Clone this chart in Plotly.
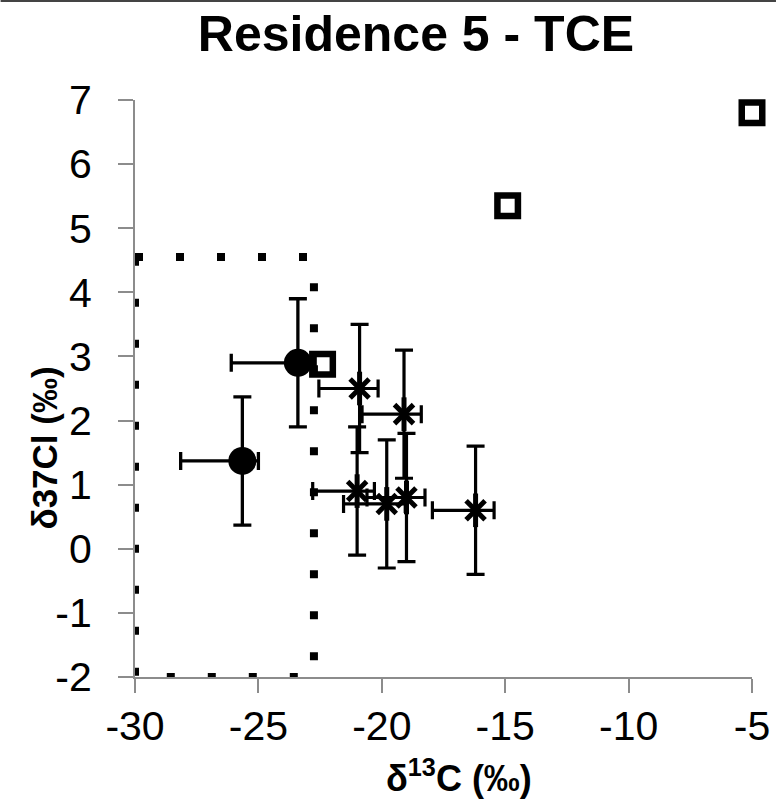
import plotly.graph_objects as go

# ---- data ----
circle_x = [-23.4, -25.65]
circle_y = [2.9, 1.37]
circle_xerr_minus = [2.7, 2.5]
circle_xerr_plus = [0.7, 0.65]
circle_yerr = [1.0, 1.0]

square_x = [-5.0, -14.9, -22.4]
square_y = [6.8, 5.35, 2.88]

star_x = [-20.9, -19.1, -21.0, -19.8, -19.0, -16.2]
star_y = [2.5, 2.1, 0.9, 0.7, 0.8, 0.6]
star_xerr_minus = [1.65, 1.7, 1.8, 1.75, 1.6, 1.75]
star_xerr_plus = [0.75, 0.7, 0.7, 0.75, 0.75, 0.75]
star_yerr = [1.0, 1.0, 1.0, 1.0, 1.0, 1.0]

box_x = [-30, -22.75, -22.75, -30, -30]
box_y = [4.55, 4.55, -2, -2, 4.55]

x_ticks = [-30, -25, -20, -15, -10, -5]
y_ticks = [-2, -1, 0, 1, 2, 3, 4, 5, 6, 7]

W, H = 776, 801
L, R, T, B = 134.5, 24, 100, 124

FONT = "Liberation Sans, Arial, sans-serif"

fig = go.Figure()

# dotted box
fig.add_trace(go.Scatter(
    x=box_x, y=box_y, mode="lines",
    line=dict(color="black", width=8, dash="8px,33px"),
    cliponaxis=False, hoverinfo="skip", showlegend=False))

# circles with error bars
fig.add_trace(go.Scatter(
    x=circle_x, y=circle_y, mode="markers",
    marker=dict(symbol="circle", size=28, color="black"),
    error_x=dict(type="data", symmetric=False, array=circle_xerr_plus,
                 arrayminus=circle_xerr_minus, color="black", thickness=3.3, width=9),
    error_y=dict(type="data", array=circle_yerr, color="black", thickness=3.3, width=9),
    cliponaxis=False, showlegend=False))

# stars with error bars
fig.add_trace(go.Scatter(
    x=star_x, y=star_y, mode="markers",
    marker=dict(symbol="x-thin-open", size=19, color="black",
                line=dict(color="black", width=5)),
    error_x=dict(type="data", symmetric=False, array=star_xerr_plus,
                 arrayminus=star_xerr_minus, color="black", thickness=3.2, width=9),
    error_y=dict(type="data", array=star_yerr, color="black", thickness=3.2, width=9),
    cliponaxis=False, showlegend=False))
fig.add_trace(go.Scatter(
    x=star_x, y=star_y, mode="markers",
    marker=dict(symbol="line-ns-open", size=24, color="black",
                line=dict(color="black", width=5)),
    cliponaxis=False, showlegend=False, hoverinfo="skip"))

# open squares
fig.add_trace(go.Scatter(
    x=square_x, y=square_y, mode="markers",
    marker=dict(symbol="square-open", size=20.5, color="black",
                line=dict(color="black", width=6.5)),
    cliponaxis=False, showlegend=False))

pw = W - L - R
ph = H - T - B

# top frame line
fig.add_shape(type="line", xref="paper", yref="paper",
              x0=-L / pw, x1=(W - L) / pw, y0=1 + (T - 1) / ph, y1=1 + (T - 1) / ph,
              line=dict(color="#444444", width=2))

fig.update_layout(
    width=W, height=H,
    margin=dict(l=L, r=R, t=T, b=B, pad=0, autoexpand=False),
    paper_bgcolor="white", plot_bgcolor="white",
    font=dict(family=FONT, color="black"),
    title=dict(text="<b>Residence 5 - TCE</b>", x=416 / W, xanchor="center",
               y=1 - 33 / H, yanchor="middle", font=dict(size=50, family=FONT)),
    xaxis=dict(range=[-30, -5], tickvals=x_ticks, ticktext=[str(v) for v in x_ticks],
               showgrid=False, zeroline=False, showline=True, linecolor="#8c8c8c",
               linewidth=2, ticks="outside", ticklen=14, tickcolor="#8c8c8c",
               tickwidth=1.5, tickfont=dict(size=41), ticklabelstandoff=-2,
               automargin=False),
    yaxis=dict(range=[-2, 7], tickvals=y_ticks, ticktext=[str(v) for v in y_ticks],
               showgrid=False, zeroline=False, showline=True, linecolor="#8c8c8c",
               linewidth=2, ticks="outside", ticklen=15, tickcolor="#8c8c8c",
               tickwidth=1.5, tickfont=dict(size=41), ticklabelstandoff=18,
               automargin=False),
    annotations=[
        dict(text="<b>δ<sup>13</sup>C (‰)</b>", xref="paper", yref="paper",
             x=(459 - L) / pw, y=-(776 - (H - B)) / ph, xanchor="center", yanchor="middle",
             showarrow=False, font=dict(size=36)),
        dict(text="<b>δ37Cl (‰)</b>", xref="paper", yref="paper",
             x=-(L - 43) / pw, y=1 - (448 - T) / ph, xanchor="center", yanchor="middle",
             textangle=-90, showarrow=False, font=dict(size=35)),
    ],
)

fig.write_html("out.html")
